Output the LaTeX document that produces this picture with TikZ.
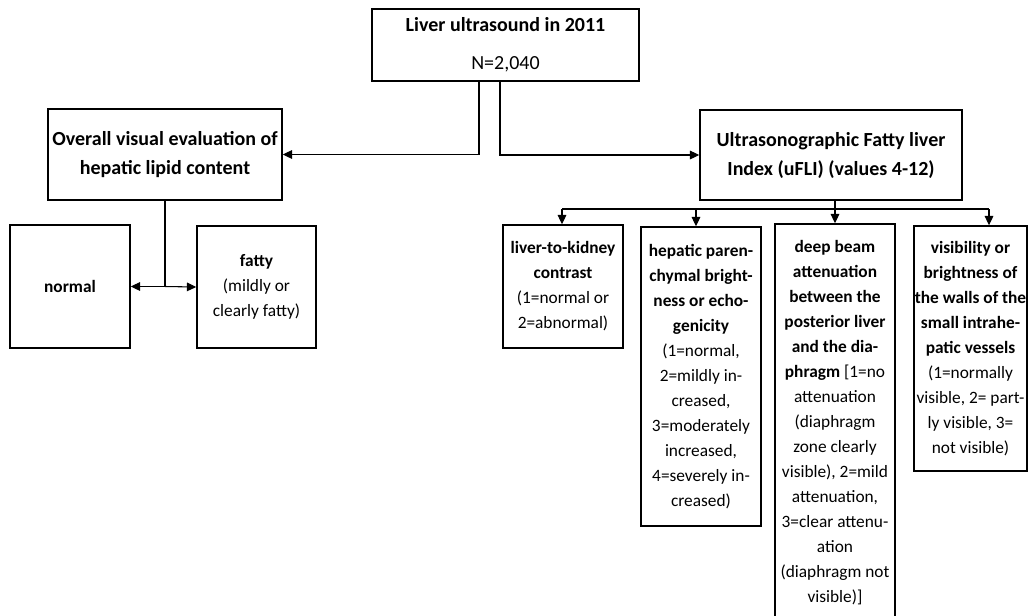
\documentclass[tikz,border=0pt]{standalone}
\usepackage{fontspec}
\setmainfont{Carlito}
\usepackage{tikz}
\usetikzlibrary{arrows.meta, positioning, calc}

\tikzset{
  box/.style={draw, line width=1.1pt, align=center, inner xsep=0.5pt, inner ysep=1pt,
    font=\fontsize{13}{18.75}\selectfont},
  headbox/.style={box, font=\fontsize{15}{21.75}\selectfont\bfseries},
  arr/.style={-{Triangle[length=7pt,width=6.5pt]}, line width=0.8pt},
  link/.style={line width=0.8pt}
}

\begin{document}
\begin{tikzpicture}[x=0.75pt, y=-0.75pt]
        \clip (0,0) rectangle (1034,615);
        \fill[white] (0,0) rectangle (1034,615);
        % top of the tree
        \node[box, font=\fontsize{15}{28.5}\selectfont,
          minimum width=200.25pt, minimum height=54pt]
          (scan) at (505.5,45)
          {\textbf{Liver ultrasound in 2011}\\N=2,040};
        % two ways of grading
        \node[headbox, minimum width=175.5pt, minimum height=68.25pt]
          (visual) at (165,154.5)
          {Overall visual evaluation of\\hepatic lipid content};
        \node[headbox, minimum width=196.5pt, minimum height=67.5pt]
          (ufli) at (831,155)
          {Ultrasonographic Fatty liver\\Index (uFLI) (values 4-12)};
        % visual grades
        \node[box, minimum width=90pt, minimum height=92.25pt]
          (normal) at (70,286.5) {\textbf{normal}};
        \node[box, minimum width=89.25pt, minimum height=91.5pt]
          (fatty) at (256.5,287)
          {\textbf{fatty}\\(mildly or\\clearly fatty)};
        % uFLI items
        \node[box, minimum width=90pt, minimum height=92.25pt]
          (kidney) at (563,286.5)
          {\textbf{liver-to-kidney}\\\textbf{contrast}\\(1=normal or\\2=abnormal)};
        \node[box, minimum width=90pt, minimum height=224.25pt]
          (bright) at (701,376.5)
          {\textbf{hepatic paren-}\\\textbf{chymal bright-}\\\textbf{ness or echo-}\\\textbf{genicity}\\(1=normal,\\2=mildly in-\\creased,\\3=moderately\\increased,\\4=severely in-\\creased)};
        \node[box, minimum width=90pt, minimum height=298.5pt]
          (beam) at (835,423)
          {\textbf{deep beam}\\\textbf{attenuation}\\\textbf{between the}\\\textbf{posterior liver}\\\textbf{and the dia-}\\\textbf{phragm} [1=no\\attenuation\\(diaphragm\\zone clearly\\visible), 2=mild\\attenuation,\\3=clear attenu-\\ation\\(diaphragm not\\visible)]};
        \node[box, minimum width=84.75pt, minimum height=183.75pt]
          (vessel) at (970.5,348.5)
          {\textbf{visibility or}\\\textbf{brightness of}\\\textbf{the walls of the}\\\textbf{small intrahe-}\\\textbf{patic vessels}\\(1=normally\\visible, 2= part-\\ly visible, 3=\\not visible)};
        % connectors from the top box
        \coordinate (scanL) at (479,80);
        \coordinate (scanR) at (500,80);
        \draw[arr] (scanL) |- (visual.east);
        \draw[arr] (scanR) |- (ufli.west);
        % visual grades
        \coordinate (fork) at (visual.south |- normal.east);
        \draw[link] (visual.south) -- (fork);
        \draw[arr] (fork) -- (normal.east);
        \draw[arr] (fork) -- (fatty.west);
        % uFLI bus
        \coordinate (busL) at (562,209);
        \coordinate (busB) at (696,209);
        \coordinate (busR) at (989,209);
        \draw[link] (busL) -- (busR);
        \draw[arr] (busL) -- (busL |- kidney.north);
        \draw[arr] (busB) -- (busB |- bright.north);
        \draw[arr] (ufli.south -| beam.north) -- (beam.north);
        \draw[arr] (busR) -- (busR |- vessel.north);
      \end{tikzpicture}
\end{document}
